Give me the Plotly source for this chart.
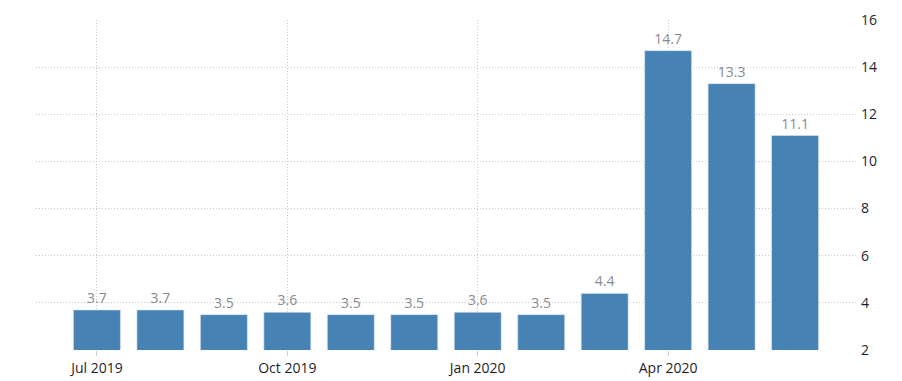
import plotly.graph_objects as go

months = ["Jul 2019", "Aug 2019", "Sep 2019", "Oct 2019", "Nov 2019", "Dec 2019",
          "Jan 2020", "Feb 2020", "Mar 2020", "Apr 2020", "May 2020", "Jun 2020"]
values = [3.7, 3.7, 3.5, 3.6, 3.5, 3.5, 3.6, 3.5, 4.4, 14.7, 13.3, 11.1]
tick_labels = ["Jul 2019", "Oct 2019", "Jan 2020", "Apr 2020"]
y_ticks = [2, 4, 6, 8, 10, 12, 14, 16]

x_idx = list(range(len(months)))
tick_pos = [months.index(t) for t in tick_labels]

fig = go.Figure(go.Bar(
    x=x_idx, y=values,
    base=0,
    width=0.74,
    marker=dict(color="#4682B4", line=dict(color="#dde6ee", width=0.6)),
    text=[f"{v:.1f}" for v in values],
    textposition="outside",
    textfont=dict(color="#8a8a92", size=14, family="Open Sans"),
    cliponaxis=False,
    hoverinfo="skip",
))

fig.update_layout(
    width=902, height=381,
    margin=dict(l=36, r=46, t=20, b=31, autoexpand=False),
    paper_bgcolor="white", plot_bgcolor="white",
    showlegend=False,
    font=dict(family="Open Sans", size=12, color="#222"),
    xaxis=dict(
        range=[-0.96, 11.96], automargin=False,
        tickmode="array", tickvals=tick_pos, ticktext=tick_labels,
        showgrid=True, gridcolor="#c8c8c8", griddash="1px,2px", gridwidth=1,
        ticks="outside", ticklen=5, tickcolor="#d0d0d0",
        zeroline=False, showline=False,
        tickfont=dict(size=14, color="#1e1e2e"),
    ),
    yaxis=dict(
        range=[2, 16], side="right", automargin=False,
        tickmode="array", tickvals=y_ticks,
        showgrid=True, gridcolor="#c8c8c8", griddash="1px,2px", gridwidth=1,
        zeroline=False, showline=False,
        tickfont=dict(size=14, color="#1e1e2e"),
        ticklabelstandoff=4,
    ),
)

fig.write_html(
    "out.html",
    config={"displayModeBar": False},
    post_script="document.body.style.margin='0';document.body.style.overflow='hidden';",
)
